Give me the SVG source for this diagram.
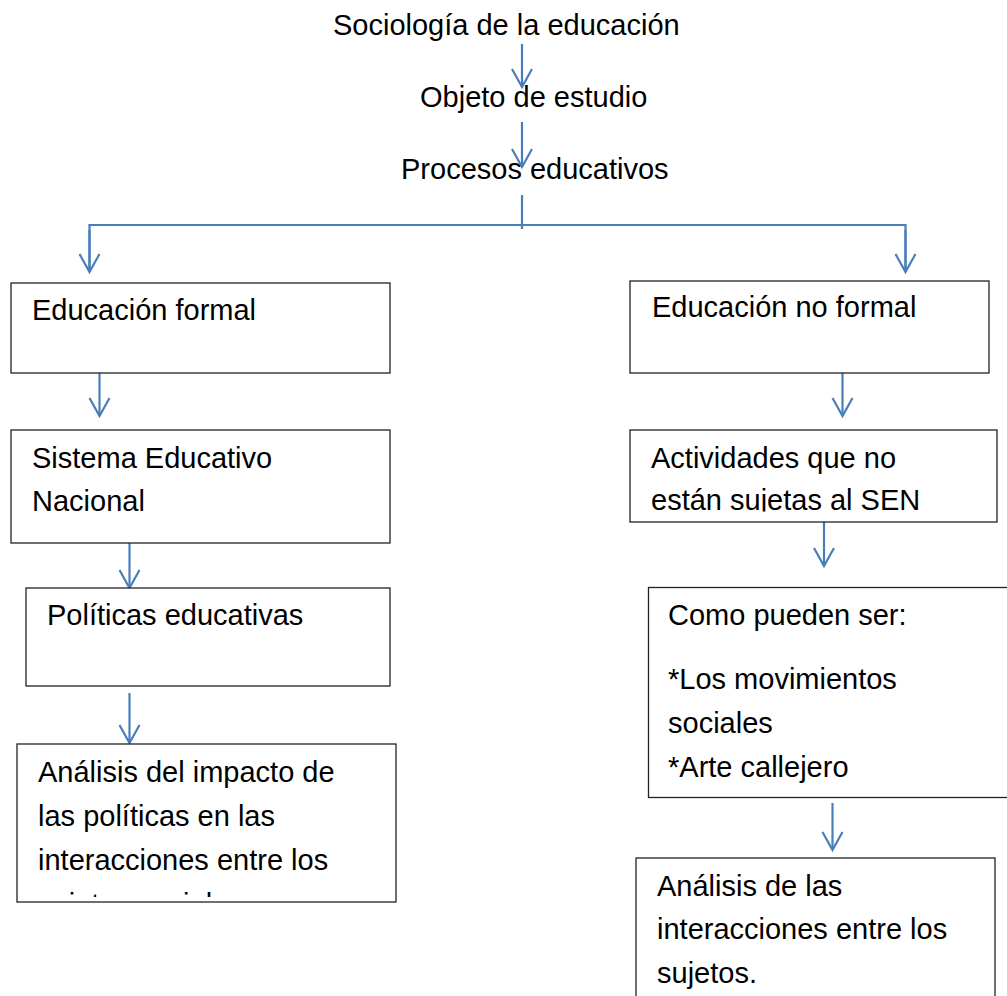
<svg xmlns="http://www.w3.org/2000/svg" width="1007" height="996" viewBox="0 0 1007 996">
<style>
text{font-family:"Liberation Sans",Arial,sans-serif;font-size:29px;fill:#000}
.box{fill:#fff;stroke:#222;stroke-width:1.3}
.con{fill:none;stroke:#4a7ebb;stroke-width:2.2}
</style>
<defs>
<marker id="ah" markerUnits="userSpaceOnUse" markerWidth="40" markerHeight="40" refX="0" refY="0" orient="auto" overflow="visible">
<path d="M-18,-10 L0,0 L-18,10" fill="none" stroke="#4a7ebb" stroke-width="2.2"/>
</marker>
<clipPath id="c6"><rect x="630" y="430" width="370" height="81.5"/></clipPath>
<clipPath id="c4"><rect x="17" y="744" width="380" height="153"/></clipPath>
</defs>
<rect width="1007" height="996" fill="#fff"/>
<g id="t1"><text x="333" y="35">Sociología de la educación</text></g>
<g id="t2"><text x="420" y="107">Objeto de estudio</text></g>
<g id="t3"><text x="401" y="179">Procesos educativos</text></g>
<g id="connectors">
<path class="con" d="M522,44 V87" marker-end="url(#ah)"/>
<path class="con" d="M522,122 V167" marker-end="url(#ah)"/>
<path class="con" d="M522,195 V229"/>
<path class="con" d="M89.5,272 V225 H905.5 V272" />
<path class="con" d="M89.5,230 V272" marker-end="url(#ah)"/>
<path class="con" d="M905.5,230 V272" marker-end="url(#ah)"/>
<path class="con" d="M99.5,369 V416" marker-end="url(#ah)"/>
<path class="con" d="M129.5,543 V588" marker-end="url(#ah)"/>
<path class="con" d="M129.5,693 V743" marker-end="url(#ah)"/>
<path class="con" d="M842.5,369 V416" marker-end="url(#ah)"/>
<path class="con" d="M824,522 V566" marker-end="url(#ah)"/>
<path class="con" d="M832.5,803 V850" marker-end="url(#ah)"/>
</g>
<g id="n-formal">
<rect class="box" x="11" y="283" width="379" height="90"/>
<text x="32" y="320">Educación formal</text>
</g>
<g id="n-sen">
<rect class="box" x="11" y="430" width="379" height="113"/>
<text x="32" y="468">Sistema Educativo</text>
<text x="32" y="511">Nacional</text>
</g>
<g id="n-politicas">
<rect class="box" x="26" y="588" width="364" height="98"/>
<text x="47" y="625">Políticas educativas</text>
</g>
<g id="n-analisis1">
<rect class="box" x="17" y="744" width="379" height="158"/>
<g clip-path="url(#c4)">
<text x="38" y="782">Análisis del impacto de</text>
<text x="38" y="826">las políticas en las</text>
<text x="38" y="870">interacciones entre los</text>
<text x="38" y="914">sujetos sociales</text>
</g>
</g>
<g id="n-noformal">
<rect class="box" x="630" y="281" width="359" height="92"/>
<text x="652" y="317">Educación no formal</text>
</g>
<g id="n-actividades">
<rect class="box" x="630" y="430" width="367" height="92"/>
<g clip-path="url(#c6)">
<text x="651" y="468">Actividades que no</text>
<text x="651" y="510">están sujetas al SEN</text>
</g>
</g>
<g id="n-como">
<rect class="box" x="648.5" y="587.5" width="370" height="210"/>
<text x="668" y="625">Como pueden ser:</text>
<text x="668" y="689">*Los movimientos</text>
<text x="668" y="733">sociales</text>
<text x="668" y="777">*Arte callejero</text>
</g>
<g id="n-analisis2">
<rect class="box" x="636" y="858" width="359" height="160"/>
<text x="657" y="896">Análisis de las</text>
<text x="657" y="939">interacciones entre los</text>
<text x="657" y="983">sujetos.</text>
</g>
</svg>
